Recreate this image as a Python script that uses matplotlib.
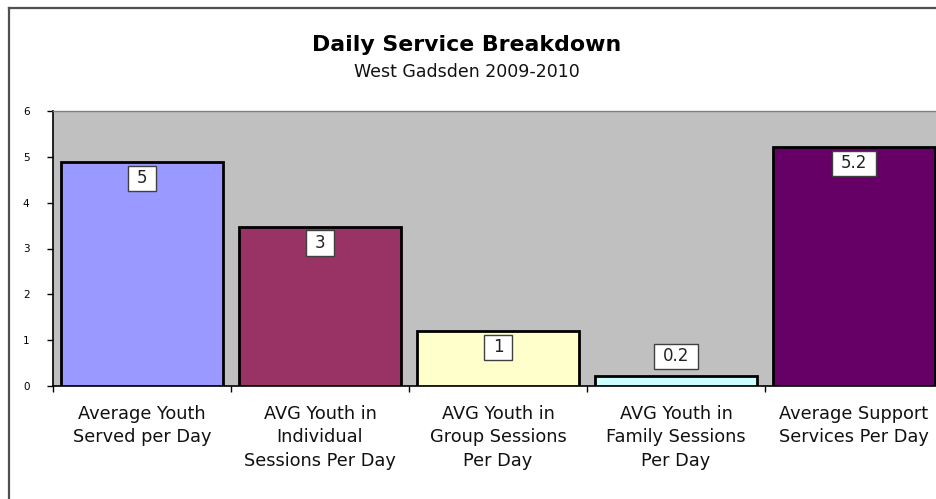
import matplotlib
matplotlib.use("Agg")
import matplotlib.pyplot as plt
from matplotlib.path import Path
import matplotlib.lines as mlines

categories = [
    "Average Youth\nServed per Day",
    "AVG Youth in\nIndividual\nSessions Per Day",
    "AVG Youth in\nGroup Sessions\nPer Day",
    "AVG Youth in\nFamily Sessions\nPer Day",
    "Average Support\nServices Per Day",
]
values = [4.88, 3.47, 1.19, 0.22, 5.21]
value_labels = ["5", "3", "1", "0.2", "5.2"]
bar_colors = ["#9999FF", "#993366", "#FFFFCC", "#CCFFFF", "#660066"]
yticks = [0, 1, 2, 3, 4, 5, 6]

plt.rcParams['font.family'] = ['DejaVu Sans']

W, H = 936, 499
fig = plt.figure(figsize=(W / 100, H / 100), dpi=100)
fig.patch.set_facecolor("white")

# plot area from x=53 to ~943 (cut off at right), y from 111 to 386
ax = fig.add_axes([53 / W, 1 - 386 / H, (943 - 53) / W, 275 / H])
ax.set_facecolor("#C0C0C0")

x = list(range(len(values)))
ax.bar(x, values, width=0.915, color=bar_colors, edgecolor="black", linewidth=2, zorder=3)

ax.set_xlim(-0.5, len(values) - 0.5)
ax.set_ylim(0, 6)
ax.set_yticks(yticks)
ax.set_yticklabels([str(t) for t in yticks], fontsize=7.5)
ax.set_xticks([i + 0.5 for i in range(-1, len(values))], minor=False)
ax.set_xticklabels([])
ax.set_xticks(x, minor=True)
ax.set_xticklabels(categories, minor=True, fontsize=12.8, linespacing=1.36,
                   color="#111111", va="top", ha="center")
ax.tick_params(axis="x", which="major", direction="out", length=4, width=1, color="black")
ax.tick_params(axis="x", which="minor", length=0, pad=14)
ax.tick_params(axis="y", direction="out", length=4, width=1, color="black", pad=13)

for s in ["top", "right"]:
    ax.spines[s].set_color("#808080")
    ax.spines[s].set_linewidth(1)
ax.spines["left"].set_color("black")
ax.spines["bottom"].set_color("black")
ax.spines["left"].set_linewidth(1.2)
ax.spines["bottom"].set_linewidth(1.2)


def label_box(x0, y0, width, height, mutation_size):
    px = 0.55 * mutation_size
    py = 0.22 * mutation_size
    x0 -= px
    y0 -= py
    x1 = x0 + width + 2 * px
    y1 = y0 + height + 2 * py
    return Path([(x0, y0), (x1, y0), (x1, y1), (x0, y1), (x0, y0)], closed=True)


for i, (v, lab) in enumerate(zip(values, value_labels)):
    inside = v > 0.6
    off = -11.5 if inside else 14
    ax.annotate(lab, xy=(i, v), xytext=(0, off), textcoords="offset points",
                ha="center", va="center", fontsize=12, color="#222222", zorder=5,
                bbox=dict(boxstyle=label_box, facecolor="white", edgecolor="#404040", linewidth=1))

# titles
fig.text(467 / W, 1 - 51 / H, "Daily Service Breakdown", ha="center", va="baseline",
         fontsize=15.8, fontweight="bold", color="black")
fig.text(467 / W, 1 - 77 / H, "West Gadsden 2009-2010", ha="center", va="baseline",
         fontsize=12.5, color="#111111")

# chart-area frame (left and top edges visible, rest cut off)
fig.add_artist(mlines.Line2D([8.5 / W, 8.5 / W], [-0.05, 1 - 7.5 / H], transform=fig.transFigure,
                             color="#505050", linewidth=1.6))
fig.add_artist(mlines.Line2D([8.5 / W, 1.05], [1 - 7.5 / H, 1 - 7.5 / H], transform=fig.transFigure,
                             color="#505050", linewidth=1.6))

fig.savefig("out.png", dpi=100)
